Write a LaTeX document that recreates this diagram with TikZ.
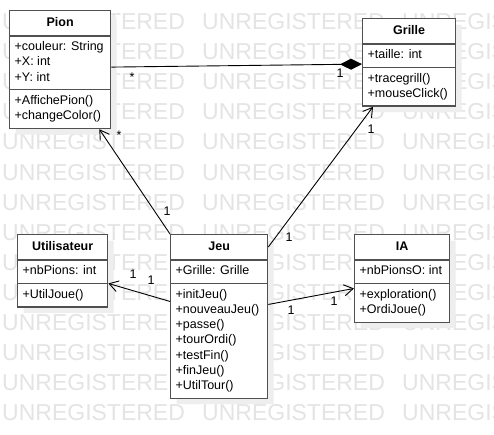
\documentclass[tikz,border=0pt]{standalone}
\usepackage{fontspec}
\setmainfont{Liberation Sans}
\usetikzlibrary{arrows.meta, shapes.multipart, shadows, calc}
\definecolor{cline}{HTML}{505050}
\definecolor{cshade}{HTML}{EEEEEE}
\definecolor{cmark}{HTML}{E4E4E4}
\tikzset{
  cls/.style={rectangle split, rectangle split parts=3, draw=cline, fill=white, line width=1.3pt,
    rectangle split part align={center,left,left}, align=left, anchor=north west,
    inner xsep=5pt, inner ysep=3.5pt, font=\fontsize{12.5}{15.2}\selectfont,
    drop shadow={shadow xshift=6pt, shadow yshift=-6pt, fill=cshade, opacity=1}},
  arrow/.style={-{Straight Barb[length=9pt, width=11pt]}, line width=0.9pt},
  comp/.style={-{Diamond[length=22pt, width=11pt]}, line width=0.9pt},
  mult/.style={anchor=base, inner sep=0pt, font=\fontsize{12.5}{15}\selectfont},
  wmark/.style={anchor=base west, inner sep=0pt, text=cmark, font=\fontsize{23}{23}\selectfont},
}
\newcommand{\cname}[1]{\rule[-5.5pt]{0pt}{17pt}\textbf{#1}}

\begin{document}
\begin{tikzpicture}[x=1pt, y=1pt]
  \useasboundingbox[fill=white] (0,0) rectangle (494,434);
  % watermark
  \begin{scope}
    \clip (0,0) rectangle (494,434);
    \foreach \k in {0,...,13}
      \foreach \j in {0,1,2}
        \node[wmark] (wm-\k-\j) at (2+200*\j, 404-30*\k) {UNREGISTERED};
  \end{scope}
  % classes
  \node[cls, minimum width=101pt] (pion) at (9,424)
    {\cname{Pion}\nodepart{two}\strut+couleur: String\\+X: int\\+Y: int\strut
     \nodepart{three}\strut+AffichePion()\\+changeColor()\strut};
  \node[cls, minimum width=93pt] (grille) at (362,416)
    {\cname{Grille}\nodepart{two}\strut+taille: int\strut
     \nodepart{three}\strut+tracegrill()\\+mouseClick()\strut};
  \node[cls, minimum width=90pt] (util) at (17,200)
    {\cname{Utilisateur}\nodepart{two}\strut+nbPions: int\strut
     \nodepart{three}\strut+UtilJoue()\strut};
  \node[cls, minimum width=97pt] (jeu) at (170,200)
    {\cname{Jeu}\nodepart{two}\strut+Grille: Grille\strut
     \nodepart{three}\strut+initJeu()\\+nouveauJeu()\\+passe()\\+tourOrdi()\\+testFin()\\+finJeu()\\+UtilTour()\strut};
  \node[cls, minimum width=95pt] (ia) at (354,200)
    {\cname{IA}\nodepart{two}\strut+nbPionsO: int\strut
     \nodepart{three}\strut+exploration()\\+OrdiJoue()\strut};
  % links
  \draw[comp] ([yshift=2.5pt]pion.east) -- ([yshift=-1.7pt]grille.west);
  \draw[arrow] (jeu.north west) -- ([xshift=-12pt]pion.south east);
  \draw[arrow] ([yshift=-13pt]jeu.north east) -- ([xshift=11pt]grille.south west);
  \draw[arrow] ([yshift=-18pt]jeu.two split west) -- (util.two split east);
  \draw[arrow] ([yshift=-21pt]jeu.two split east) -- ([yshift=-5pt]ia.two split west);
  % multiplicities
  \node[mult] (m-pg) at (132,352) {*};
  \node[mult] (m-gp) at (340,356.5) {1};
  \node[mult] (m-pj) at (119,294) {*};
  \node[mult] (m-jp) at (167,218.5) {1};
  \node[mult] (m-gj) at (371,300.5) {1};
  \node[mult] (m-jg) at (289,192.5) {1};
  \node[mult] (m-uj) at (133,155.5) {1};
  \node[mult] (m-ju) at (151,149.5) {1};
  \node[mult] (m-ji) at (291,119.5) {1};
  \node[mult] (m-ij) at (334,128.5) {1};
\end{tikzpicture}
\end{document}
